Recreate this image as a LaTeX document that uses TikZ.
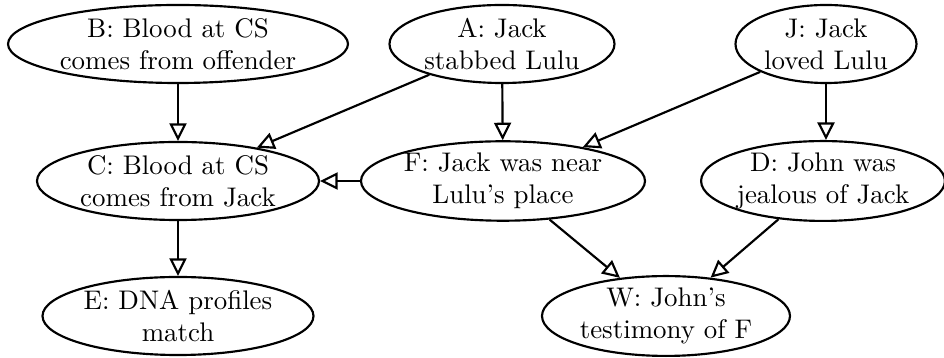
\documentclass[tikz,border=0pt]{standalone}
\usetikzlibrary{shapes.geometric,arrows.meta}
\begin{document}
\begin{tikzpicture}[x=0.3717pt, y=-0.3717pt,
  ell/.style={ellipse, draw, line width=0.8pt, inner sep=0pt,
    minimum height=29pt, align=center},
  edge/.style={line width=0.8pt,
    -{Triangle[open, length=6.5pt, width=6.3pt, line width=0.8pt]}}]
\useasboundingbox (0,0) rectangle (944,358);
\node[ell, minimum width={340*0.3717pt}] (B) at (178,44) {B: Blood at CS\\comes from offender};
\node[ell, minimum width={225*0.3717pt}] (A) at (502,44) {A: Jack\\stabbed Lulu};
\node[ell, minimum width={181*0.3717pt}] (J) at (826,44) {J: Jack\\loved Lulu};
\node[ell, minimum width={282*0.3717pt}] (C) at (178,181) {C: Blood at CS\\comes from Jack};
\node[ell, minimum width={284*0.3717pt}] (F) at (503,181) {F: Jack was near\\Lulu's place};
\node[ell, minimum width={236*0.3717pt}] (D) at (823,181) {D: John was\\jealous of Jack};
\node[ell, minimum width={271*0.3717pt}] (E) at (178,316) {E: DNA profiles\\match};
\node[ell, minimum width={248*0.3717pt}] (W) at (666,316) {W: John's\\testimony of F};
\draw[edge] (B) -- (C);
\draw[edge] (A) -- (C);
\draw[edge] (A) -- (F);
\draw[edge] (J) -- (F);
\draw[edge] (J.south) -- (J.south |- D.north);
\draw[edge] (F) -- (C);
\draw[edge] (C) -- (E);
\draw[edge] (F) -- (W);
\draw[edge] (D) -- (W);
\end{tikzpicture}
\end{document}
